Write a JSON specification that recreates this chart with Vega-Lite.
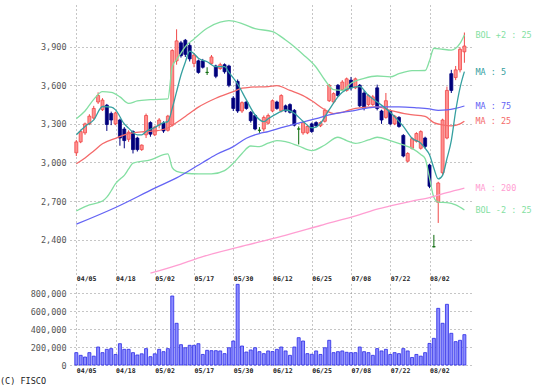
{
  "$schema": "https://vega.github.io/schema/vega-lite/v6.json",
  "padding": {"left": 0, "top": 5, "right": 5, "bottom": 2},
  "background": "white",
  "config": {
    "view": {"stroke": null},
    "axis": {"domain": false, "ticks": false, "grid": true, "gridColor": "#8c8c8c", "gridDash": [1, 3], "gridWidth": 1, "labelFont": "DejaVu Sans Mono", "labelColor": "#555555"},
    "concat": {"spacing": 1}
  },
  "title": {"text": "(C) FISCO", "orient": "bottom", "anchor": "start", "frame": "group", "dx": -70, "font": "DejaVu Sans Mono", "fontSize": 8.5, "fontWeight": "normal", "color": "#222222", "offset": 3},
  "datasets": {
    "candles": [
      {"i":0,"o":3075,"h":3175,"l":3050,"c":3160,"v":138000},
      {"i":1,"o":3160,"h":3255,"l":3150,"c":3240,"v":108000},
      {"i":2,"o":3230,"h":3310,"l":3215,"c":3300,"v":89000},
      {"i":3,"o":3300,"h":3375,"l":3290,"c":3360,"v":138000},
      {"i":4,"o":3345,"h":3440,"l":3335,"c":3420,"v":99000},
      {"i":5,"o":3470,"h":3545,"l":3455,"c":3520,"v":201000},
      {"i":6,"o":3410,"h":3500,"l":3400,"c":3485,"v":138000},
      {"i":7,"o":3445,"h":3455,"l":3245,"c":3295,"v":175000},
      {"i":8,"o":3380,"h":3395,"l":3290,"c":3330,"v":183000},
      {"i":9,"o":3300,"h":3395,"l":3290,"c":3385,"v":118000},
      {"i":10,"o":3330,"h":3340,"l":3130,"c":3190,"v":238000},
      {"i":11,"o":3260,"h":3275,"l":3110,"c":3170,"v":175000},
      {"i":12,"o":3180,"h":3250,"l":3160,"c":3235,"v":175000},
      {"i":13,"o":3240,"h":3250,"l":3070,"c":3100,"v":138000},
      {"i":14,"o":3190,"h":3200,"l":3085,"c":3100,"v":112000},
      {"i":15,"o":3100,"h":3140,"l":3090,"c":3135,"v":125000},
      {"i":16,"o":3215,"h":3380,"l":3190,"c":3365,"v":183000},
      {"i":17,"o":3310,"h":3320,"l":3200,"c":3220,"v":93000},
      {"i":18,"o":3215,"h":3285,"l":3205,"c":3275,"v":125000},
      {"i":19,"o":3290,"h":3345,"l":3265,"c":3330,"v":175000},
      {"i":20,"o":3305,"h":3320,"l":3230,"c":3245,"v":149000},
      {"i":21,"o":3250,"h":3370,"l":3240,"c":3360,"v":183000},
      {"i":22,"o":3290,"h":3880,"l":3280,"c":3870,"v":771000},
      {"i":23,"o":3790,"h":4035,"l":3760,"c":3945,"v":466000},
      {"i":24,"o":3930,"h":3945,"l":3815,"c":3830,"v":227000},
      {"i":25,"o":3950,"h":3960,"l":3820,"c":3840,"v":193000},
      {"i":26,"o":3910,"h":3930,"l":3785,"c":3805,"v":220000},
      {"i":27,"o":3770,"h":3850,"l":3740,"c":3835,"v":220000},
      {"i":28,"o":3790,"h":3800,"l":3690,"c":3700,"v":238000},
      {"i":29,"o":3790,"h":3805,"l":3730,"c":3740,"v":118000},
      {"i":30,"o":3700,"h":3740,"l":3680,"c":3700,"v":164000},
      {"i":31,"o":3770,"h":3835,"l":3760,"c":3820,"v":160000},
      {"i":32,"o":3750,"h":3760,"l":3655,"c":3670,"v":160000},
      {"i":33,"o":3730,"h":3775,"l":3720,"c":3760,"v":157000},
      {"i":34,"o":3760,"h":3770,"l":3690,"c":3705,"v":127000},
      {"i":35,"o":3750,"h":3760,"l":3585,"c":3600,"v":193000},
      {"i":36,"o":3500,"h":3515,"l":3400,"c":3420,"v":268000},
      {"i":37,"o":3630,"h":3645,"l":3385,"c":3400,"v":901000},
      {"i":38,"o":3400,"h":3475,"l":3385,"c":3465,"v":212000},
      {"i":39,"o":3470,"h":3480,"l":3410,"c":3420,"v":145000},
      {"i":40,"o":3390,"h":3400,"l":3310,"c":3325,"v":168000},
      {"i":41,"o":3365,"h":3375,"l":3250,"c":3260,"v":193000},
      {"i":42,"o":3250,"h":3275,"l":3230,"c":3250,"v":149000},
      {"i":43,"o":3260,"h":3365,"l":3240,"c":3350,"v":127000},
      {"i":44,"o":3305,"h":3380,"l":3295,"c":3365,"v":157000},
      {"i":45,"o":3400,"h":3490,"l":3390,"c":3480,"v":150000},
      {"i":46,"o":3470,"h":3480,"l":3410,"c":3420,"v":175000},
      {"i":47,"o":3400,"h":3530,"l":3390,"c":3520,"v":201000},
      {"i":48,"o":3440,"h":3450,"l":3390,"c":3400,"v":157000},
      {"i":49,"o":3450,"h":3460,"l":3380,"c":3390,"v":108000},
      {"i":50,"o":3405,"h":3415,"l":3280,"c":3290,"v":201000},
      {"i":51,"o":3260,"h":3280,"l":3140,"c":3260,"v":305000},
      {"i":52,"o":3230,"h":3320,"l":3215,"c":3310,"v":268000},
      {"i":53,"o":3230,"h":3290,"l":3220,"c":3280,"v":127000},
      {"i":54,"o":3300,"h":3310,"l":3230,"c":3240,"v":120000},
      {"i":55,"o":3310,"h":3320,"l":3275,"c":3285,"v":157000},
      {"i":56,"o":3285,"h":3320,"l":3275,"c":3310,"v":118000},
      {"i":57,"o":3320,"h":3420,"l":3310,"c":3405,"v":193000},
      {"i":58,"o":3480,"h":3610,"l":3470,"c":3600,"v":276000},
      {"i":59,"o":3470,"h":3545,"l":3455,"c":3535,"v":138000},
      {"i":60,"o":3600,"h":3610,"l":3510,"c":3520,"v":149000},
      {"i":61,"o":3565,"h":3640,"l":3555,"c":3625,"v":157000},
      {"i":62,"o":3560,"h":3660,"l":3550,"c":3650,"v":142000},
      {"i":63,"o":3640,"h":3665,"l":3560,"c":3580,"v":138000},
      {"i":64,"o":3580,"h":3660,"l":3570,"c":3650,"v":138000},
      {"i":65,"o":3600,"h":3610,"l":3430,"c":3440,"v":201000},
      {"i":66,"o":3540,"h":3560,"l":3405,"c":3420,"v":149000},
      {"i":67,"o":3450,"h":3530,"l":3440,"c":3520,"v":138000},
      {"i":68,"o":3450,"h":3525,"l":3440,"c":3510,"v":108000},
      {"i":69,"o":3580,"h":3605,"l":3405,"c":3420,"v":183000},
      {"i":70,"o":3400,"h":3410,"l":3300,"c":3330,"v":157000},
      {"i":71,"o":3350,"h":3540,"l":3340,"c":3480,"v":175000},
      {"i":72,"o":3400,"h":3410,"l":3290,"c":3300,"v":118000},
      {"i":73,"o":3300,"h":3370,"l":3290,"c":3360,"v":138000},
      {"i":74,"o":3350,"h":3360,"l":3270,"c":3280,"v":127000},
      {"i":75,"o":3210,"h":3220,"l":3040,"c":3050,"v":183000},
      {"i":76,"o":3010,"h":3080,"l":3000,"c":3070,"v":157000},
      {"i":77,"o":3110,"h":3195,"l":3100,"c":3185,"v":84000},
      {"i":78,"o":3165,"h":3235,"l":3155,"c":3225,"v":118000},
      {"i":79,"o":3110,"h":3250,"l":3100,"c":3240,"v":99000},
      {"i":80,"o":3190,"h":3200,"l":3110,"c":3125,"v":138000},
      {"i":81,"o":2980,"h":2990,"l":2800,"c":2815,"v":241000},
      {"i":82,"o":2345,"h":2437,"l":2340,"c":2345,"v":298000},
      {"i":83,"o":2690,"h":2850,"l":2530,"c":2840,"v":633000},
      {"i":84,"o":2920,"h":3340,"l":2900,"c":3330,"v":466000},
      {"i":85,"o":3190,"h":3590,"l":3180,"c":3560,"v":678000},
      {"i":86,"o":3690,"h":3720,"l":3540,"c":3560,"v":354000},
      {"i":87,"o":3660,"h":3750,"l":3640,"c":3720,"v":261000},
      {"i":88,"o":3720,"h":3895,"l":3700,"c":3880,"v":276000},
      {"i":89,"o":3860,"h":4010,"l":3775,"c":3905,"v":339000}
    ],
    "lines": [
      {"s":"BOL +2 : 25","i":0,"v":3340},{"s":"BOL +2 : 25","i":2,"v":3400},{"s":"BOL +2 : 25","i":4,"v":3490},{"s":"BOL +2 : 25","i":6,"v":3550},{"s":"BOL +2 : 25","i":8,"v":3545},{"s":"BOL +2 : 25","i":10,"v":3510},{"s":"BOL +2 : 25","i":12,"v":3460},{"s":"BOL +2 : 25","i":14,"v":3478},{"s":"BOL +2 : 25","i":17,"v":3488},{"s":"BOL +2 : 25","i":21,"v":3494},{"s":"BOL +2 : 25","i":22,"v":3745},{"s":"BOL +2 : 25","i":23,"v":3800},{"s":"BOL +2 : 25","i":24,"v":3850},{"s":"BOL +2 : 25","i":25,"v":3900},{"s":"BOL +2 : 25","i":27,"v":3960},{"s":"BOL +2 : 25","i":30,"v":4043},{"s":"BOL +2 : 25","i":33,"v":4090},{"s":"BOL +2 : 25","i":35,"v":4102},{"s":"BOL +2 : 25","i":38,"v":4080},{"s":"BOL +2 : 25","i":41,"v":4040},{"s":"BOL +2 : 25","i":45,"v":4017},{"s":"BOL +2 : 25","i":48,"v":3952},{"s":"BOL +2 : 25","i":50,"v":3900},{"s":"BOL +2 : 25","i":52,"v":3840},{"s":"BOL +2 : 25","i":55,"v":3740},{"s":"BOL +2 : 25","i":57,"v":3641},{"s":"BOL +2 : 25","i":59,"v":3566},{"s":"BOL +2 : 25","i":61,"v":3560},{"s":"BOL +2 : 25","i":63,"v":3616},{"s":"BOL +2 : 25","i":66,"v":3654},{"s":"BOL +2 : 25","i":69,"v":3672},{"s":"BOL +2 : 25","i":72,"v":3665},{"s":"BOL +2 : 25","i":74,"v":3690},{"s":"BOL +2 : 25","i":77,"v":3714},{"s":"BOL +2 : 25","i":80,"v":3715},{"s":"BOL +2 : 25","i":81,"v":3790},{"s":"BOL +2 : 25","i":82,"v":3888},{"s":"BOL +2 : 25","i":84,"v":3880},{"s":"BOL +2 : 25","i":86,"v":3874},{"s":"BOL +2 : 25","i":88,"v":3925},{"s":"BOL +2 : 25","i":89,"v":3991},
      {"s":"BOL -2 : 25","i":0,"v":2623},{"s":"BOL -2 : 25","i":3,"v":2670},{"s":"BOL -2 : 25","i":6,"v":2700},{"s":"BOL -2 : 25","i":7,"v":2730},{"s":"BOL -2 : 25","i":8,"v":2780},{"s":"BOL -2 : 25","i":9,"v":2835},{"s":"BOL -2 : 25","i":10,"v":2870},{"s":"BOL -2 : 25","i":11,"v":2900},{"s":"BOL -2 : 25","i":12,"v":2950},{"s":"BOL -2 : 25","i":13,"v":2995},{"s":"BOL -2 : 25","i":17,"v":3020},{"s":"BOL -2 : 25","i":21,"v":3066},{"s":"BOL -2 : 25","i":22,"v":2960},{"s":"BOL -2 : 25","i":23,"v":2930},{"s":"BOL -2 : 25","i":25,"v":2916},{"s":"BOL -2 : 25","i":28,"v":2911},{"s":"BOL -2 : 25","i":31,"v":2911},{"s":"BOL -2 : 25","i":34,"v":2937},{"s":"BOL -2 : 25","i":36,"v":2994},{"s":"BOL -2 : 25","i":38,"v":3070},{"s":"BOL -2 : 25","i":40,"v":3128},{"s":"BOL -2 : 25","i":42,"v":3123},{"s":"BOL -2 : 25","i":44,"v":3150},{"s":"BOL -2 : 25","i":46,"v":3170},{"s":"BOL -2 : 25","i":48,"v":3162},{"s":"BOL -2 : 25","i":51,"v":3128},{"s":"BOL -2 : 25","i":54,"v":3092},{"s":"BOL -2 : 25","i":57,"v":3136},{"s":"BOL -2 : 25","i":60,"v":3196},{"s":"BOL -2 : 25","i":62,"v":3170},{"s":"BOL -2 : 25","i":64,"v":3148},{"s":"BOL -2 : 25","i":67,"v":3175},{"s":"BOL -2 : 25","i":69,"v":3196},{"s":"BOL -2 : 25","i":72,"v":3170},{"s":"BOL -2 : 25","i":75,"v":3136},{"s":"BOL -2 : 25","i":77,"v":3110},{"s":"BOL -2 : 25","i":79,"v":3062},{"s":"BOL -2 : 25","i":80,"v":3030},{"s":"BOL -2 : 25","i":81,"v":2880},{"s":"BOL -2 : 25","i":82,"v":2730},{"s":"BOL -2 : 25","i":83,"v":2692},{"s":"BOL -2 : 25","i":85,"v":2688},{"s":"BOL -2 : 25","i":87,"v":2670},{"s":"BOL -2 : 25","i":89,"v":2631},
      {"s":"MA : 25","i":0,"v":2990},{"s":"MA : 25","i":2,"v":3035},{"s":"MA : 25","i":4,"v":3090},{"s":"MA : 25","i":6,"v":3145},{"s":"MA : 25","i":9,"v":3188},{"s":"MA : 25","i":12,"v":3225},{"s":"MA : 25","i":15,"v":3238},{"s":"MA : 25","i":18,"v":3245},{"s":"MA : 25","i":21,"v":3268},{"s":"MA : 25","i":23,"v":3310},{"s":"MA : 25","i":25,"v":3358},{"s":"MA : 25","i":28,"v":3430},{"s":"MA : 25","i":32,"v":3499},{"s":"MA : 25","i":36,"v":3550},{"s":"MA : 25","i":38,"v":3577},{"s":"MA : 25","i":40,"v":3585},{"s":"MA : 25","i":44,"v":3590},{"s":"MA : 25","i":46,"v":3598},{"s":"MA : 25","i":49,"v":3560},{"s":"MA : 25","i":52,"v":3520},{"s":"MA : 25","i":54,"v":3480},{"s":"MA : 25","i":57,"v":3410},{"s":"MA : 25","i":59,"v":3380},{"s":"MA : 25","i":61,"v":3390},{"s":"MA : 25","i":64,"v":3421},{"s":"MA : 25","i":69,"v":3432},{"s":"MA : 25","i":72,"v":3405},{"s":"MA : 25","i":76,"v":3375},{"s":"MA : 25","i":80,"v":3358},{"s":"MA : 25","i":82,"v":3310},{"s":"MA : 25","i":84,"v":3292},{"s":"MA : 25","i":86,"v":3285},{"s":"MA : 25","i":88,"v":3300},{"s":"MA : 25","i":89,"v":3320},
      {"s":"MA : 75","i":0,"v":2520},{"s":"MA : 75","i":9,"v":2650},{"s":"MA : 75","i":18,"v":2800},{"s":"MA : 75","i":23,"v":2880},{"s":"MA : 75","i":29,"v":3000},{"s":"MA : 75","i":32,"v":3060},{"s":"MA : 75","i":36,"v":3123},{"s":"MA : 75","i":39,"v":3188},{"s":"MA : 75","i":42,"v":3225},{"s":"MA : 75","i":44,"v":3240},{"s":"MA : 75","i":47,"v":3270},{"s":"MA : 75","i":51,"v":3305},{"s":"MA : 75","i":55,"v":3340},{"s":"MA : 75","i":58,"v":3369},{"s":"MA : 75","i":61,"v":3390},{"s":"MA : 75","i":64,"v":3405},{"s":"MA : 75","i":67,"v":3425},{"s":"MA : 75","i":70,"v":3432},{"s":"MA : 75","i":74,"v":3432},{"s":"MA : 75","i":78,"v":3425},{"s":"MA : 75","i":81,"v":3416},{"s":"MA : 75","i":83,"v":3405},{"s":"MA : 75","i":85,"v":3408},{"s":"MA : 75","i":87,"v":3420},{"s":"MA : 75","i":89,"v":3439},
      {"s":"MA : 200","i":17,"v":2139},{"s":"MA : 200","i":24,"v":2210},{"s":"MA : 200","i":29,"v":2268},{"s":"MA : 200","i":37,"v":2340},{"s":"MA : 200","i":47,"v":2425},{"s":"MA : 200","i":56,"v":2510},{"s":"MA : 200","i":65,"v":2595},{"s":"MA : 200","i":69,"v":2637},{"s":"MA : 200","i":72,"v":2662},{"s":"MA : 200","i":77,"v":2700},{"s":"MA : 200","i":81,"v":2727},{"s":"MA : 200","i":85,"v":2765},{"s":"MA : 200","i":89,"v":2800},
      {"s":"MA : 5","i":0,"v":3215},{"s":"MA : 5","i":2,"v":3280},{"s":"MA : 5","i":4,"v":3331},{"s":"MA : 5","i":6,"v":3435},{"s":"MA : 5","i":8,"v":3430},{"s":"MA : 5","i":9,"v":3409},{"s":"MA : 5","i":11,"v":3300},{"s":"MA : 5","i":12,"v":3267},{"s":"MA : 5","i":14,"v":3215},{"s":"MA : 5","i":15,"v":3215},{"s":"MA : 5","i":16,"v":3241},{"s":"MA : 5","i":18,"v":3272},{"s":"MA : 5","i":20,"v":3310},{"s":"MA : 5","i":21,"v":3318},{"s":"MA : 5","i":22,"v":3420},{"s":"MA : 5","i":23,"v":3550},{"s":"MA : 5","i":24,"v":3680},{"s":"MA : 5","i":25,"v":3780},{"s":"MA : 5","i":26,"v":3865},{"s":"MA : 5","i":27,"v":3845},{"s":"MA : 5","i":28,"v":3810},{"s":"MA : 5","i":30,"v":3783},{"s":"MA : 5","i":32,"v":3745},{"s":"MA : 5","i":34,"v":3745},{"s":"MA : 5","i":35,"v":3700},{"s":"MA : 5","i":37,"v":3610},{"s":"MA : 5","i":39,"v":3486},{"s":"MA : 5","i":41,"v":3369},{"s":"MA : 5","i":43,"v":3317},{"s":"MA : 5","i":44,"v":3340},{"s":"MA : 5","i":46,"v":3380},{"s":"MA : 5","i":48,"v":3408},{"s":"MA : 5","i":50,"v":3382},{"s":"MA : 5","i":52,"v":3320},{"s":"MA : 5","i":54,"v":3270},{"s":"MA : 5","i":55,"v":3275},{"s":"MA : 5","i":56,"v":3305},{"s":"MA : 5","i":58,"v":3410},{"s":"MA : 5","i":60,"v":3510},{"s":"MA : 5","i":61,"v":3545},{"s":"MA : 5","i":63,"v":3580},{"s":"MA : 5","i":65,"v":3589},{"s":"MA : 5","i":67,"v":3520},{"s":"MA : 5","i":69,"v":3470},{"s":"MA : 5","i":72,"v":3391},{"s":"MA : 5","i":75,"v":3280},{"s":"MA : 5","i":77,"v":3188},{"s":"MA : 5","i":79,"v":3150},{"s":"MA : 5","i":80,"v":3110},{"s":"MA : 5","i":81,"v":3060},{"s":"MA : 5","i":82,"v":2955},{"s":"MA : 5","i":83,"v":2872},{"s":"MA : 5","i":84,"v":2900},{"s":"MA : 5","i":85,"v":3030},{"s":"MA : 5","i":86,"v":3170},{"s":"MA : 5","i":87,"v":3400},{"s":"MA : 5","i":88,"v":3580},{"s":"MA : 5","i":89,"v":3706}
    ]
  },
  "vconcat": [
    {
      "width": 402,
      "height": 269,
      "encoding": {
        "x": {"field": "i", "type": "quantitative", "scale": {"domain": [-0.3, 89.6], "nice": false, "zero": false},
          "axis": {"title": null, "values": [0, 9, 18, 27, 36, 45, 54, 63, 72, 81], "labelExpr": "['04/05','04/18','05/02','05/17','05/30','06/12','06/25','07/08','07/22','08/02'][round(datum.value/9)]", "labelAlign": "left", "labelFontSize": 6.5, "labelFontWeight": "bold", "labelColor": "#222222", "labelPadding": 1}}
      },
      "layer": [
        {
          "data": {"name": "candles"},
          "mark": {"type": "rule", "strokeWidth": 1},
          "encoding": {
            "y": {"field": "l", "type": "quantitative", "scale": {"domain": [2133, 4224], "nice": false, "zero": false},
              "axis": {"title": null, "values": [2400, 2700, 3000, 3300, 3600, 3900], "format": ",d", "labelFontSize": 8.5, "labelPadding": 4, "minExtent": 70}},
            "y2": {"field": "h"},
            "stroke": {"condition": [{"test": "datum.c > datum.o", "value": "#f04848"}, {"test": "datum.c == datum.o", "value": "#0a6a0a"}], "value": "#000080"}
          }
        },
        {
          "data": {"name": "candles"},
          "mark": {"type": "bar", "width": 3, "strokeWidth": 0.8},
          "encoding": {
            "y": {"field": "o", "type": "quantitative"},
            "y2": {"field": "c"},
            "fill": {"condition": [{"test": "datum.c > datum.o", "value": "#ff9090"}, {"test": "datum.c == datum.o", "value": "#0a6a0a"}], "value": "#00007a"},
            "stroke": {"condition": [{"test": "datum.c > datum.o", "value": "#f04848"}, {"test": "datum.c == datum.o", "value": "#0a6a0a"}], "value": "#000080"}
          }
        },
        {
          "data": {"name": "lines"},
          "mark": {"type": "line", "strokeWidth": 1.3, "interpolate": "monotone", "clip": true},
          "encoding": {
            "y": {"field": "v", "type": "quantitative"},
            "color": {"field": "s", "type": "nominal", "legend": null,
              "scale": {"domain": ["BOL +2 : 25", "MA : 5", "MA : 75", "MA : 25", "MA : 200", "BOL -2 : 25"], "range": ["#84dfa2", "#35a0a0", "#6464f4", "#f46a6a", "#ff9ed2", "#84dfa2"]}}
          }
        },
        {
          "data": {"name": "lines"},
          "transform": [{"filter": {"field": "i", "equal": 89}}],
          "mark": {"type": "text", "align": "left", "baseline": "middle", "dx": 11, "font": "DejaVu Sans Mono", "fontSize": 8.5},
          "encoding": {
            "y": {"field": "v", "type": "quantitative"},
            "text": {"field": "s"},
            "color": {"field": "s", "type": "nominal", "legend": null}
          }
        }
      ]
    },
    {
      "width": 402,
      "height": 81,
      "data": {"name": "candles"},
      "mark": {"type": "bar", "width": 3, "fill": "#8c8cff", "stroke": "#2a2ae6", "strokeWidth": 0.8},
      "encoding": {
        "x": {"field": "i", "type": "quantitative", "scale": {"domain": [-0.3, 89.6], "nice": false, "zero": false},
          "axis": {"title": null, "values": [0, 9, 18, 27, 36, 45, 54, 63, 72, 81], "labelExpr": "['04/05','04/18','05/02','05/17','05/30','06/12','06/25','07/08','07/22','08/02'][round(datum.value/9)]", "labelAlign": "left", "labelFontSize": 6.5, "labelFontWeight": "bold", "labelColor": "#222222", "labelPadding": 2}},
        "y": {"field": "v", "type": "quantitative", "scale": {"domain": [0, 905000], "nice": false},
          "axis": {"title": null, "values": [0, 200000, 400000, 600000, 800000], "format": ",d", "labelFontSize": 8.5, "labelPadding": 4, "minExtent": 70}}
      }
    }
  ]
}
